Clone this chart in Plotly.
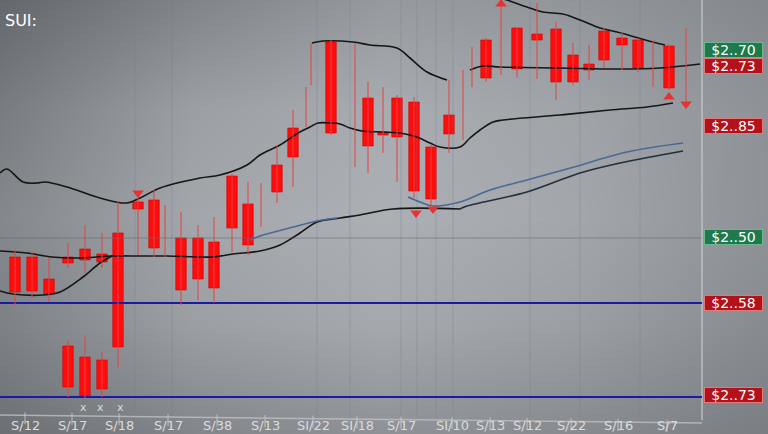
import plotly.graph_objects as go

# ---------------- data ----------------
# main candles: position (session units), open/high/low/close (price units)
cx = [1.5, 3.2, 4.9, 6.8, 8.5, 10.2, 11.8, 13.8, 15.4, 18.1, 19.8, 21.4, 23.2, 24.8, 27.7, 29.3,
      33.1, 36.8, 38.3, 39.7, 41.4, 43.1, 44.9, 48.6, 51.7, 53.7, 55.6, 57.3, 58.9, 60.4, 62.2, 63.8, 66.9]
c_open = [2.43, 2.43, 2.21, 2.43, 2.51, 2.46, 2.67, 2.98, 3.00, 2.62, 2.62, 2.58, 3.24, 2.96, 3.35, 3.72,
          4.58, 4.02, 3.68, 4.02, 3.98, 3.53, 3.85, 4.60, 4.72, 4.66, 4.71, 4.45, 4.36, 4.69, 4.62, 4.60, 4.54]
c_high = [2.50, 2.48, 2.42, 2.57, 2.75, 2.67, 2.98, 3.07, 3.10, 2.88, 2.75, 2.83, 3.26, 3.18, 3.55, 3.90,
          4.60, 4.18, 4.13, 4.05, 4.03, 3.55, 4.20, 4.62, 4.73, 4.97, 4.78, 4.57, 4.55, 4.72, 4.67, 4.62, 4.55]
c_low = [1.95, 2.02, 1.98, 2.32, 2.27, 2.32, 1.33, 2.45, 2.43, 1.95, 2.00, 1.97, 2.48, 2.45, 2.97, 3.13,
         3.65, 3.27, 3.47, 3.18, 3.02, 2.95, 3.47, 4.18, 4.22, 4.21, 4.00, 4.15, 4.20, 4.32, 4.30, 4.28, 4.10]
c_close = [2.08, 2.09, 2.06, 2.37, 2.40, 2.38, 1.53, 2.91, 2.52, 2.10, 2.21, 2.12, 2.72, 2.55, 3.08, 3.43,
           3.67, 3.54, 3.65, 3.63, 3.09, 3.01, 3.66, 4.22, 4.31, 4.60, 4.18, 4.18, 4.30, 4.40, 4.55, 4.32, 4.12]

# lower candles (below the support line)
lx = [6.8, 8.5, 10.2]
l_open = [1.54, 1.43, 1.40]
l_high = [1.60, 1.64, 1.48]
l_low = [1.03, 1.02, 1.03]
l_close = [1.13, 1.04, 1.11]

# wick-only sessions
wx = [16.5, 26.1, 30.6, 31.1, 35.5, 46.3, 47.2, 50.1, 65.3, 68.6]
w_high = [2.95, 3.17, 4.13, 4.57, 4.57, 4.30, 4.53, 4.97, 4.60, 4.72]
w_low = [2.43, 2.73, 3.73, 4.15, 3.33, 3.60, 4.13, 4.25, 4.13, 3.95]

# black indicator lines
lineA_x = [0, 0.7, 2.3, 3.7, 4.5, 6.7, 10.0, 12.7, 14.0, 16.0, 20.0, 22.0, 24.7, 26.0, 28.0, 29.8, 31.0, 31.8,
           33.0, 34.0, 35.0, 36.2, 38.3, 40.0, 41.7, 43.0, 44.0, 46.0, 47.0, 48.0, 49.3, 50.3, 56.0, 61.0, 64.7, 67.3]
lineA_y = [3.27, 3.31, 3.18, 3.17, 3.18, 3.13, 3.02, 2.97, 3.02, 3.12, 3.22, 3.25, 3.35, 3.45, 3.55, 3.67, 3.73, 3.77,
           3.77, 3.76, 3.72, 3.69, 3.68, 3.67, 3.63, 3.57, 3.53, 3.53, 3.62, 3.70, 3.78, 3.80, 3.85, 3.90, 3.93, 3.97]
upper1_x = [31.2, 32.3, 35.3, 37.0, 39.7, 41.0, 42.7, 44.7]
upper1_y = [4.57, 4.59, 4.58, 4.55, 4.52, 4.42, 4.28, 4.20]
upper2_x = [49.7, 50.7, 52.7, 54.3, 56.3, 58.0, 60.0, 61.7, 65.3, 66.5]
upper2_y = [5.03, 5.00, 4.93, 4.88, 4.86, 4.80, 4.72, 4.68, 4.58, 4.55]
lineC_x = [47.0, 48.3, 50.0, 56.0, 62.0, 66.0, 70.0]
lineC_y = [4.30, 4.34, 4.33, 4.32, 4.31, 4.32, 4.36]
lineD_x = [0, 2.7, 5.2, 7.7, 11.3, 14.0, 16.7, 21.3, 23.3, 26.0, 28.0, 30.0, 31.7, 34.0, 36.0, 39.3, 46.0]
lineD_y = [2.49, 2.47, 2.43, 2.42, 2.44, 2.44, 2.44, 2.43, 2.46, 2.49, 2.55, 2.67, 2.78, 2.82, 2.85, 2.91, 2.91]
lineD2_x = [46.0, 46.7, 52.7, 58.0, 62.0, 68.3]
lineD2_y = [2.91, 2.94, 3.08, 3.27, 3.37, 3.49]
lineE_x = [0, 1.3, 4.3, 6.0, 8.3, 10.0, 11.2]
lineE_y = [2.09, 2.06, 2.05, 2.08, 2.23, 2.37, 2.44]
# blue indicator lines
blueF_x = [25.0, 26.0, 29.3, 31.7, 33.7]
blueF_y = [2.60, 2.64, 2.73, 2.79, 2.82]
blueG_x = [40.8, 42.0, 43.3, 46.0, 49.0, 52.7, 56.7, 62.7, 68.3]
blueG_y = [3.03, 2.98, 2.94, 2.98, 3.10, 3.20, 3.31, 3.48, 3.57]

# signal markers
sig_dn_x = [13.8, 41.6, 43.3, 68.6]
sig_dn_y = [3.07, 2.87, 2.91, 3.96]
sig_up_x = [50.1, 66.9]
sig_up_y = [4.96, 4.03]

# horizontal levels
support_levels = [1.97, 1.03]
thin_level = 2.62

# right-hand price tags
tag_text = ["$2..70", "$2..73", "$2..85", "$2..50", "$2..58", "$2..73"]
tag_y = [4.50, 4.34, 3.74, 2.63, 1.97, 1.05]
tag_kind = ["up", "dn", "dn", "up", "dn", "dn"]

# x-axis tick labels
tick_x = [2.5, 7.2, 11.9, 16.8, 21.7, 26.5, 31.3, 35.7, 40.1, 45.2, 49.0, 52.7, 57.1, 61.8, 66.7]
tick_text = ["S/12", "S/17", "S/18", "S/17", "S/38", "S/13", "SI/22", "SI/18", "S/17", "SI/10",
             "S/13", "S/12", "S/22", "S/16", "S/7"]
mark_x = [8.3, 10.0, 12.0]

grid_x = [13.5, 17.2, 31.7, 35.0, 40.1, 41.7, 43.6, 45.3, 53.0, 58.0, 64.0]

# background gradient (gray levels)
bg_x = [0, 19.2, 38.4, 57.6, 76.8]
bg_y = [5.0, 3.92, 2.83, 1.75, 0.66]
bg_z = [[100, 128, 150, 146, 132],
        [120, 155, 168, 160, 142],
        [132, 163, 172, 163, 142],
        [125, 155, 165, 155, 135],
        [108, 130, 142, 135, 122]]

X_RANGE = [0, 76.8]
Y_RANGE = [0.66, 5.0]
FRAME_X = 70.2

# ---------------- figure ----------------
fig = go.Figure()

fig.add_trace(go.Heatmap(x=bg_x, y=bg_y, z=bg_z, zmin=60, zmax=200, zsmooth="best",
                         colorscale=[[0, "rgb(60,63,67)"], [1, "rgb(200,203,207)"]],
                         showscale=False, hoverinfo="skip"))

# gridlines
gx, gy = [], []
for g in grid_x:
    gx += [g, g, None]
    gy += [0.82, 5.0, None]
fig.add_trace(go.Scatter(x=gx, y=gy, mode="lines", line=dict(color="rgba(110,130,165,0.35)", width=1),
                         hoverinfo="skip"))
fig.add_trace(go.Scatter(x=[0, FRAME_X], y=[thin_level, thin_level], mode="lines",
                         line=dict(color="rgba(95,105,115,0.55)", width=1), hoverinfo="skip"))

# frame
fig.add_trace(go.Scatter(x=[FRAME_X, FRAME_X], y=[0.80, 5.0], mode="lines",
                         line=dict(color="rgba(200,203,206,0.8)", width=1.5), hoverinfo="skip"))
fig.add_trace(go.Scatter(x=[0, FRAME_X], y=[0.85, 0.77], mode="lines",
                         line=dict(color="rgba(190,193,196,0.8)", width=1.5), hoverinfo="skip"))
tx, ty = [], []
for t in tick_x:
    yb = 0.85 - 0.08 * t / FRAME_X
    tx += [t, t, None]
    ty += [yb + 0.03, yb - 0.09, None]
fig.add_trace(go.Scatter(x=tx, y=ty, mode="lines", line=dict(color="rgba(205,208,211,0.8)", width=1),
                         hoverinfo="skip"))

# support lines
for lv in support_levels:
    fig.add_trace(go.Scatter(x=[0, FRAME_X], y=[lv, lv], mode="lines",
                             line=dict(color="#1a1aa6", width=2), hoverinfo="skip"))

# indicator lines
for xs, ys, col in [(lineA_x, lineA_y, "#161616"), (upper1_x, upper1_y, "#161616"),
                    (upper2_x, upper2_y, "#161616"), (lineC_x, lineC_y, "#161616"),
                    (lineD_x, lineD_y, "#161616"), (lineD2_x, lineD2_y, "#22303f"),
                    (lineE_x, lineE_y, "#161616"),
                    (blueF_x, blueF_y, "#4a6a96"), (blueG_x, blueG_y, "#4a6a96")]:
    fig.add_trace(go.Scatter(x=xs, y=ys, mode="lines", line=dict(color=col, width=1.6, shape="spline"),
                             hoverinfo="skip"))

# wicks
def wick_xy(xs, hi, lo):
    ox, oy = [], []
    for a, h, l in zip(xs, hi, lo):
        ox += [a, a, None]
        oy += [l, h, None]
    return ox, oy

for xs, hi, lo in [(cx, c_high, c_low), (lx, l_high, l_low), (wx, w_high, w_low)]:
    ox, oy = wick_xy(xs, hi, lo)
    fig.add_trace(go.Scatter(x=ox, y=oy, mode="lines", line=dict(color="rgba(225,70,70,0.85)", width=1.2),
                             hoverinfo="skip"))

# bodies
for xs, op, cl in [(cx, c_open, c_close), (lx, l_open, l_close)]:
    fig.add_trace(go.Bar(x=xs, y=[o - c for o, c in zip(op, cl)], base=cl, width=1.05,
                         marker=dict(color="#ff0c0c", line=dict(color="#d40000", width=0.6)),
                         hoverinfo="skip"))

# signal markers
fig.add_trace(go.Scatter(x=sig_dn_x, y=sig_dn_y, mode="markers",
                         marker=dict(symbol="triangle-down", size=10, color="#e83232"), hoverinfo="skip"))
fig.add_trace(go.Scatter(x=sig_up_x, y=sig_up_y, mode="markers",
                         marker=dict(symbol="triangle-up", size=10, color="#e83232"), hoverinfo="skip"))

annotations = []
annotations.append(dict(x=0.3, y=4.80, xref="x", yref="y", text="SUI:", showarrow=False,
                        xanchor="left", yanchor="middle",
                        font=dict(family="DejaVu Sans", size=16, color="white")))
for t, yv, k in zip(tag_text, tag_y, tag_kind):
    bg = "#1d7a4c" if k == "up" else "#b3121a"
    bd = "#6fb58f" if k == "up" else "#e07a7a"
    annotations.append(dict(x=FRAME_X + 0.2, y=yv, xref="x", yref="y", text=t, showarrow=False,
                            xanchor="left", yanchor="middle", bgcolor=bg, bordercolor=bd, borderwidth=1,
                            borderpad=0, width=57, height=14,
                            font=dict(family="DejaVu Sans", size=14, color="white")))
for t, txt in zip(tick_x, tick_text):
    annotations.append(dict(x=t, y=0.75, xref="x", yref="y", text=txt, showarrow=False,
                            xanchor="center", yanchor="middle",
                            font=dict(family="DejaVu Sans", size=13, color="#dadcde")))
for m in mark_x:
    annotations.append(dict(x=m, y=0.93, xref="x", yref="y", text="x", showarrow=False,
                            xanchor="center", yanchor="middle",
                            font=dict(family="DejaVu Sans", size=11, color="#dcdcdc")))

fig.update_layout(
    width=768, height=434, margin=dict(l=0, r=0, t=0, b=0),
    paper_bgcolor="#8a8d90", plot_bgcolor="#8a8d90",
    showlegend=False, barmode="overlay",
    xaxis=dict(range=X_RANGE, visible=False, fixedrange=True),
    yaxis=dict(range=Y_RANGE, visible=False, fixedrange=True),
    annotations=annotations,
)

fig.write_html("out.html", config={"displayModeBar": False},
               post_script="document.body.style.margin='0px';document.body.style.overflow='hidden';")
